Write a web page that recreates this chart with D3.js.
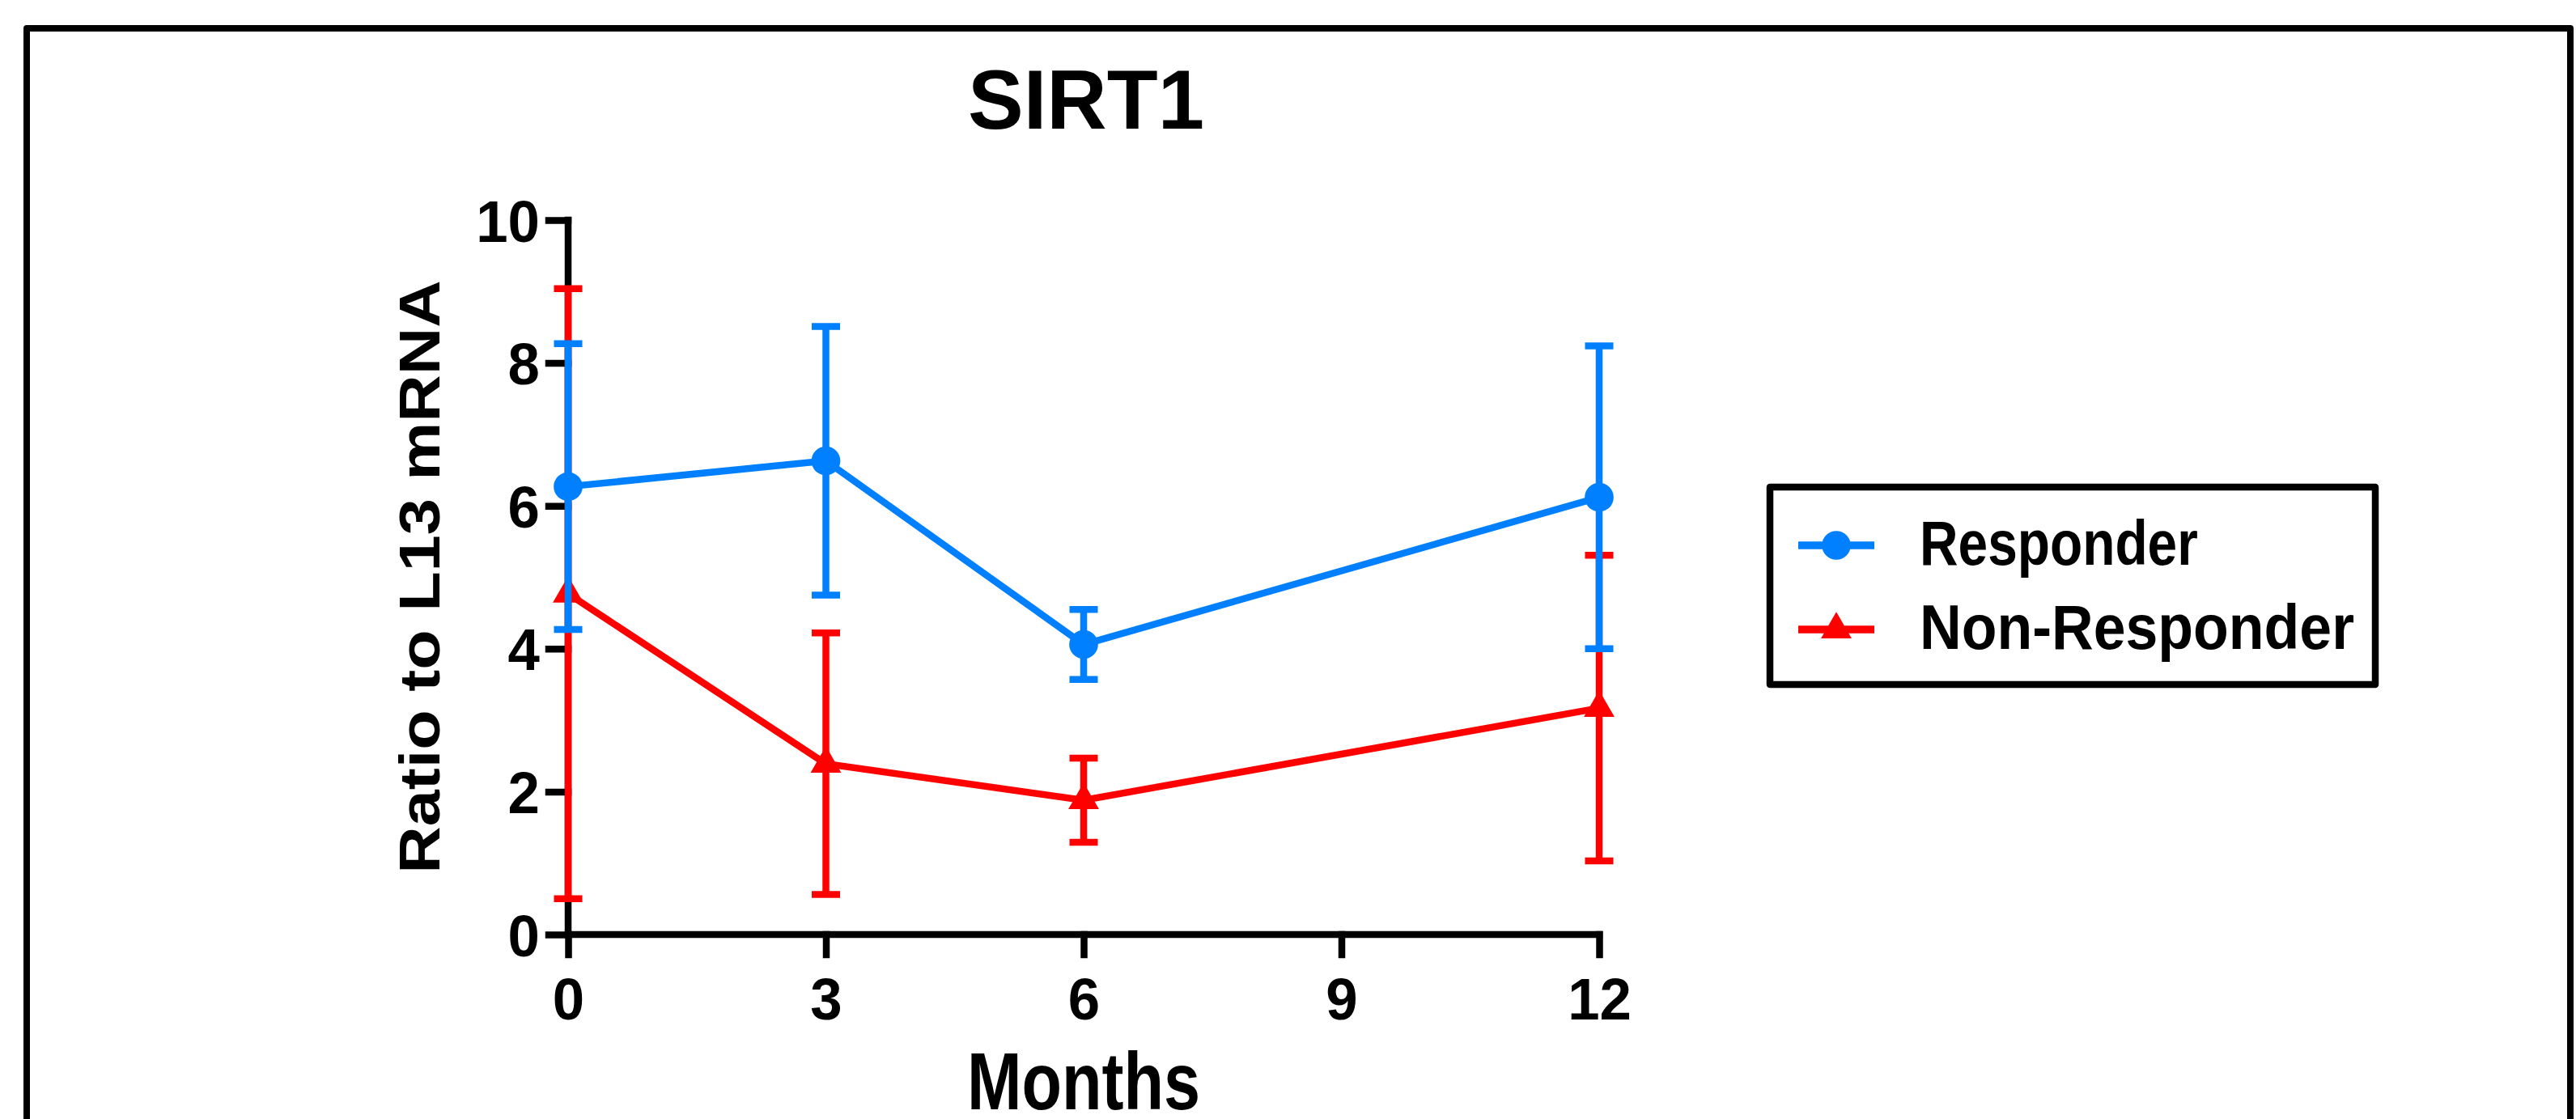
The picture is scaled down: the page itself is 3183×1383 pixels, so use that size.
<!DOCTYPE html>
<html>
<head>
<meta charset="utf-8">
<script src="https://cdn.jsdelivr.net/npm/d3@7"></script>
<style>
  html, body { margin: 0; padding: 0; background: #ffffff; }
  svg { display: block; }
  text { font-family: "Liberation Sans", Arial, sans-serif; font-weight: bold; fill: #000; }
</style>
</head>
<body>
<svg id="chart" width="3183" height="1383"></svg>
<script>
// ---- data ----
const title = "SIRT1";
const xLabel = "Months";
const yLabel = "Ratio to L13 mRNA";
const months = [0, 3, 6, 12];
const responderMean = [6.27, 6.63, 4.06, 6.12];
const responderErr = [2.00, 1.88, 0.49, 2.12];
const nonResponderMean = [4.77, 2.39, 1.88, 3.17];
const nonResponderErr = [4.27, 1.83, 0.59, 2.14];
const xTicks = [0, 3, 6, 9, 12];
const yTicks = [0, 2, 4, 6, 8, 10];
const seriesNames = ["Responder", "Non-Responder"];
const seriesColors = ["#0080ff", "#ff0000"];

// ---- layout ----
const W = 3183, H = 1383;
const svg = d3.select("#chart");
svg.append("rect").attr("width", W).attr("height", H).attr("fill", "#ffffff");

// outer frame (bottom edge off-canvas)
svg.append("path")
  .attr("d", `M33,${H + 20} L33,35 L3176,35 L3176,${H + 20}`)
  .attr("fill", "none").attr("stroke", "#000").attr("stroke-width", 8)
  .attr("stroke-linejoin", "round");

const x = d3.scaleLinear().domain([0, 12]).range([702, 1976]);
const y = d3.scaleLinear().domain([0, 10]).range([1155, 272]);

const SW = 8.5;
const tickSq = 0.97;

const yAxis = d3.axisLeft(y).tickValues(yTicks).tickSize(24).tickPadding(12).tickFormat(d3.format("d"));
const xAxis = d3.axisBottom(x).tickValues(xTicks).tickSize(25).tickPadding(28).tickFormat(d3.format("d"));

const gy = svg.append("g").attr("transform", `translate(${x(0)},0)`).call(yAxis);
const gx = svg.append("g").attr("transform", `translate(0,${y(0)})`).call(xAxis);
[gy, gx].forEach(g => {
  g.select(".domain").remove();
  g.selectAll(".tick line").attr("stroke", "#000").attr("stroke-width", SW).attr("stroke-linecap", "square");
});
gy.selectAll(".tick text")
  .attr("font-size", 73).attr("font-family", null).attr("fill", "#000")
  .attr("x", null).attr("dy", null)
  .attr("transform", "translate(-35,26) scale(" + tickSq + ",1)");
gx.selectAll(".tick text")
  .attr("font-size", 73).attr("font-family", null).attr("fill", "#000")
  .attr("y", null).attr("dy", null)
  .attr("transform", "translate(0,105) scale(" + tickSq + ",1)");

// axis lines
svg.append("line").attr("x1", x(0)).attr("x2", x(0)).attr("y1", y(10)).attr("y2", y(0))
  .attr("stroke", "#000").attr("stroke-width", SW).attr("stroke-linecap", "square");
svg.append("line").attr("x1", x(0)).attr("x2", x(12)).attr("y1", y(0)).attr("y2", y(0))
  .attr("stroke", "#000").attr("stroke-width", SW).attr("stroke-linecap", "square");

// series (red drawn first, blue on top)
const series = [
  { name: seriesNames[1], mean: nonResponderMean, err: nonResponderErr, color: seriesColors[1], sym: d3.symbolTriangle, size: 620 },
  { name: seriesNames[0], mean: responderMean, err: responderErr, color: seriesColors[0], sym: d3.symbolCircle, size: 1000 }
];
const capW = 35;
const line = d3.line().x(d => x(d[0])).y(d => y(d[1]));

series.forEach(s => {
  const g = svg.append("g");
  const pts = months.map((m, i) => [m, s.mean[i], s.err[i]]);
  pts.forEach(p => {
    const hi = p[1] + p[2], lo = p[1] - p[2];
    g.append("line").attr("x1", x(p[0])).attr("x2", x(p[0])).attr("y1", y(hi)).attr("y2", y(lo))
      .attr("stroke", s.color).attr("stroke-width", SW);
    [hi, lo].forEach(v => {
      g.append("line").attr("x1", x(p[0]) - capW / 2).attr("x2", x(p[0]) + capW / 2)
        .attr("y1", y(v)).attr("y2", y(v)).attr("stroke", s.color).attr("stroke-width", SW);
    });
  });
  g.append("path").attr("d", line(pts)).attr("fill", "none")
    .attr("stroke", s.color).attr("stroke-width", SW).attr("stroke-linejoin", "miter");
  g.selectAll(".mk").data(pts).enter().append("path")
    .attr("d", d3.symbol().type(s.sym).size(s.size))
    .attr("transform", d => `translate(${x(d[0])},${y(d[1])})`)
    .attr("fill", s.color);
});

// title & axis labels
function sq(sel, tx, ty, k, rot) {
  sel.attr("transform", rot ? `translate(${tx},${ty}) rotate(-90) scale(1,${k})`
                            : `translate(${tx},${ty}) scale(${k},1)`);
  return sel;
}
sq(svg.append("text").attr("text-anchor", "middle").attr("font-size", 103).text(title), 1342, 159, 1.0);
sq(svg.append("text").attr("text-anchor", "middle").attr("font-size", 100).text(xLabel), 1339, 1371, 0.81);
sq(svg.append("text").attr("text-anchor", "middle").attr("font-size", 81).text(yLabel), 543, 713, 0.87, true);

// legend
const lg = svg.append("g");
lg.append("rect").attr("x", 2187).attr("y", 602).attr("width", 2935 - 2187).attr("height", 846 - 602)
  .attr("fill", "#fff").attr("stroke", "#000").attr("stroke-width", SW).attr("stroke-linejoin", "round");
const legendRows = [
  { name: seriesNames[0], color: seriesColors[0], sym: d3.symbolCircle, size: 1000, cy: 674, k: 0.855 },
  { name: seriesNames[1], color: seriesColors[1], sym: d3.symbolTriangle, size: 620, cy: 778, k: 0.93 }
];
legendRows.forEach(r => {
  lg.append("line").attr("x1", 2222).attr("x2", 2316).attr("y1", r.cy).attr("y2", r.cy)
    .attr("stroke", r.color).attr("stroke-width", 9.5);
  lg.append("path").attr("d", d3.symbol().type(r.sym).size(r.size)())
    .attr("transform", `translate(2269,${r.cy})`).attr("fill", r.color);
  sq(lg.append("text").attr("font-size", 77).text(r.name), 2372, r.cy + 24, r.k);
});
</script>
</body>
</html>
